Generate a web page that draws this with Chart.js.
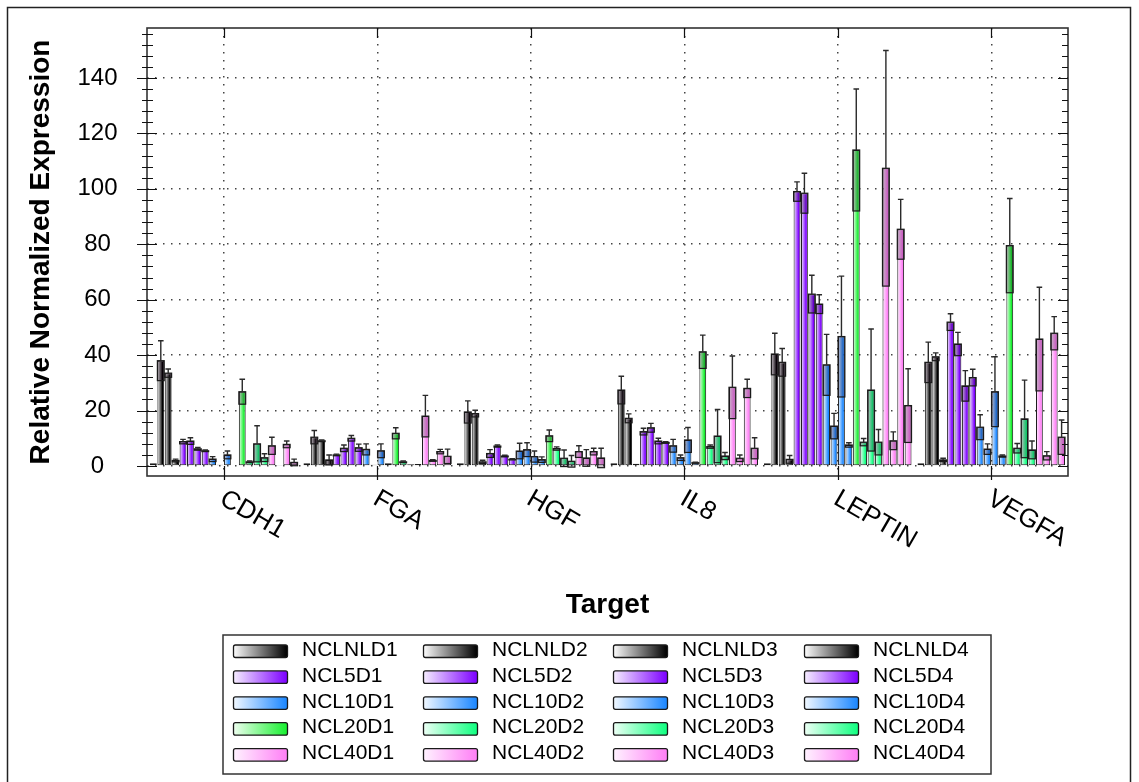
<!DOCTYPE html>
<html>
<head>
<meta charset="utf-8">
<script src="https://cdn.jsdelivr.net/npm/chart.js@4.4.1/dist/chart.umd.min.js"></script>
<style>
  html, body { margin: 0; padding: 0; background: #ffffff; }
  canvas { display: block; }
</style>
</head>
<body>
<canvas id="expr" width="1139" height="782"></canvas>
<script>
// Targets on the category axis
const targets = ['CDH1', 'FGA', 'HGF', 'IL8', 'LEPTIN', 'VEGFA'];

// Samples, in drawing order inside each target
const samples = [
  'NCLNLD1', 'NCLNLD2', 'NCLNLD3', 'NCLNLD4',
  'NCL5D1', 'NCL5D2', 'NCL5D3', 'NCL5D4',
  'NCL10D1', 'NCL10D2', 'NCL10D3', 'NCL10D4',
  'NCL20D1', 'NCL20D2', 'NCL20D3', 'NCL20D4',
  'NCL40D1', 'NCL40D2', 'NCL40D3', 'NCL40D4'
];
const sampleGroups = ['NCLNLD', 'NCL5', 'NCL10', 'NCL20', 'NCL40'];

// Relative normalized expression, one value per sample
const cdh1   = [1, 38.0, 33.5, 2.0, 8.8, 9.0, 6.2, 5.5, 2.5, 0.5, 4.0, 0, 26.8, 1.5, 8.0, 3.0, 7.3, 0.2, 7.8, 1.3];
const fga    = [1, 10.4, 9.1, 2.2, 4.0, 6.4, 10.0, 6.6, 6.0, 0.5, 5.5, 1.0, 11.8, 1.5, 0.6, 0.7, 18.0, 2.0, 5.2, 3.5];
const hgf    = [1, 19.5, 18.9, 1.5, 4.5, 7.2, 3.6, 2.4, 5.4, 5.9, 3.4, 2.3, 10.9, 6.3, 2.8, 1.7, 5.2, 2.9, 5.2, 2.9];
const il8    = [1, 27.4, 17.2, 0.8, 12.4, 13.8, 9.0, 8.5, 7.3, 3.0, 9.4, 1.2, 41.2, 7.0, 10.8, 3.6, 28.4, 2.8, 28.0, 6.4];
const leptin = [1, 40.4, 37.4, 2.4, 99.0, 98.4, 62.0, 58.4, 36.5, 14.4, 46.7, 7.6, 114.0, 8.6, 27.4, 8.6, 107.4, 9.1, 85.4, 21.8];
const vegfa  = [1, 37.4, 39.4, 2.2, 51.9, 44.0, 28.9, 31.9, 14.0, 6.1, 26.8, 3.6, 79.5, 6.4, 17.0, 5.8, 45.8, 3.7, 47.9, 10.4];

// Standard error of each value above
const cdh1Err   = [0, 7.2, 1.5, 0.5, 0.8, 1.2, 0.5, 0.3, 0.9, 0, 1.4, 0, 4.5, 0.3, 6.5, 1.4, 3.1, 0, 1.2, 1.2];
const fgaErr    = [0, 2.4, 0.3, 1.8, 0.3, 1.2, 1.0, 1.3, 2.0, 0, 2.5, 0, 2.0, 0.3, 0, 0, 7.5, 0.3, 0.8, 2.6];
const hgfErr    = [0, 4.0, 1.2, 0.6, 1.4, 0.4, 0.3, 0.2, 2.8, 2.5, 2.0, 1.0, 2.1, 0.6, 3.0, 2.1, 2.1, 3.0, 1.2, 3.5];
const il8Err    = [0, 5.0, 1.6, 0, 1.2, 1.6, 1.0, 0.3, 2.3, 1.0, 4.5, 0.2, 6.0, 0.6, 9.6, 1.3, 11.3, 1.2, 3.3, 3.8];
const leptinErr = [0, 7.5, 5.0, 1.4, 3.5, 7.2, 6.8, 3.4, 11.0, 4.6, 21.8, 0.8, 22.0, 1.3, 22.0, 4.6, 42.5, 3.2, 10.8, 13.3];
const vegfaErr  = [0, 7.3, 1.4, 0.6, 3.0, 4.2, 5.5, 3.0, 4.5, 1.9, 12.6, 0.4, 17.0, 1.7, 14.0, 3.2, 18.7, 1.5, 6.0, 6.2];

// Labelled value-axis ticks
const yTickValues = [0, 20, 40, 60, 80, 100, 120, 140];

const valueRows = [cdh1, fga, hgf, il8, leptin, vegfa];
const errorRows = [cdh1Err, fgaErr, hgfErr, il8Err, leptinErr, vegfaErr];

// Light-to-saturated gradient stops per sample group
const groupColors = {
  NCLNLD: ['#ffffff', '#000000'],
  NCL5:   ['#f7f0ff', '#7d00ff'],
  NCL10:  ['#f3f9ff', '#1a86ff'],
  NCL20:  ['#effff6', '#10ff80'],
  NCL40:  ['#fff3ff', '#ff7ff6']
};
const ncl20d1Colors = ['#f0fff1', '#18f030'];

const FONT = "'Liberation Sans', Arial, sans-serif";

const datasets = samples.map((name, s) => {
  const group = sampleGroups[Math.floor(s / 4)];
  const stops = name === 'NCL20D1' ? ncl20d1Colors : groupColors[group];
  return {
    label: name,
    data: valueRows.map(row => row[s]),
    errors: errorRows.map(row => row[s]),
    lightColor: stops[0],
    darkColor: stops[1],
    backgroundColor: stops[1],
    borderColor: '#1a1a1a',
    borderWidth: 1,
    borderSkipped: false,
    barPercentage: 0.92,
    categoryPercentage: 0.965
  };
});

// Horizontal gradient fill on every bar (colour reaches full strength past mid-width)
const gradientBars = {
  id: 'gradientBars',
  beforeDatasetsDraw(chart) {
    const ctx = chart.ctx;
    chart.data.datasets.forEach((ds, di) => {
      chart.getDatasetMeta(di).data.forEach(bar => {
        const left = bar.x - bar.width / 2;
        const g = ctx.createLinearGradient(left, 0, left + bar.width, 0);
        g.addColorStop(0, ds.lightColor);
        g.addColorStop(0.75, ds.darkColor);
        g.addColorStop(1, ds.darkColor);
        bar.options = Object.assign({}, bar.options, { backgroundColor: g });
      });
    });
  }
};

// Error shown as a shaded box below the bar top and a capped whisker above it
const errorBars = {
  id: 'errorBars',
  afterDatasetsDraw(chart) {
    const { ctx, scales: { y } } = chart;
    ctx.save();
    chart.data.datasets.forEach((ds, di) => {
      chart.getDatasetMeta(di).data.forEach((bar, i) => {
        const v = ds.data[i];
        const e = ds.errors[i];
        if (!e) return;
        const left = bar.x - bar.width / 2;
        const yv = y.getPixelForValue(v);
        const ylo = y.getPixelForValue(v - e);
        const yhi = y.getPixelForValue(v + e);
        ctx.fillStyle = 'rgba(30,0,30,0.24)';
        ctx.fillRect(left, yv, bar.width, ylo - yv);
        ctx.strokeStyle = '#1a1a1a';
        ctx.lineWidth = 1.2;
        ctx.strokeRect(left, yv, bar.width, ylo - yv);
        ctx.strokeStyle = '#2a2a2a';
        ctx.lineWidth = 1.4;
        ctx.beginPath();
        ctx.moveTo(bar.x, yv);
        ctx.lineTo(bar.x, yhi);
        ctx.moveTo(bar.x - 2.8, yhi);
        ctx.lineTo(bar.x + 2.8, yhi);
        ctx.stroke();
      });
    });
    ctx.restore();
  }
};

// Plot frame, axis ticks, slanted target names, legend and page border
const decorations = {
  id: 'decorations',
  afterDraw(chart) {
    const { ctx, chartArea: a, scales: { x, y } } = chart;
    ctx.save();

    // plot frame
    ctx.strokeStyle = '#333333';
    ctx.lineWidth = 1.6;
    ctx.strokeRect(a.left, a.top, a.right - a.left, a.bottom - a.top);

    // value-axis ticks: left crosses the axis, right points inward
    ctx.strokeStyle = '#111111';
    ctx.lineWidth = 1.2;
    ctx.beginPath();
    for (let v = 0; v <= y.max; v += 4) {
      const py = Math.round(y.getPixelForValue(v)) + 0.5;
      const major = v % 20 === 0;
      ctx.moveTo(a.left - (major ? 10 : 5), py);
      ctx.lineTo(a.left + (major ? 10 : 6), py);
      ctx.moveTo(a.right - (major ? 10 : 6), py);
      ctx.lineTo(a.right, py);
    }
    // category ticks on bottom and top edges
    targets.forEach((t, i) => {
      const px = Math.round(x.getPixelForTick(i)) + 0.5;
      ctx.moveTo(px, a.bottom - 10);
      ctx.lineTo(px, a.bottom + 4);
      ctx.moveTo(px, a.top);
      ctx.lineTo(px, a.top + 10);
    });
    ctx.stroke();

    // target names, slanted downward
    ctx.fillStyle = '#000000';
    ctx.font = '26px ' + FONT;
    ctx.textAlign = 'left';
    ctx.textBaseline = 'middle';
    targets.forEach((t, i) => {
      const px = x.getPixelForTick(i);
      ctx.save();
      ctx.translate(px - 2, a.bottom + 21);
      ctx.rotate(Math.PI / 6);
      ctx.fillText(t, 0, 0);
      ctx.restore();
    });

    // legend: 4 columns, row-major in sample order
    const box = { left: 223, top: 635, right: 991, bottom: 774 };
    ctx.strokeStyle = '#333333';
    ctx.lineWidth = 1.5;
    ctx.strokeRect(box.left, box.top, box.right - box.left, box.bottom - box.top);
    const colX = [233, 423, 613, 804];
    ctx.font = '21px ' + FONT;
    chart.data.datasets.forEach((ds, di) => {
      const col = di % 4;
      const row = Math.floor(di / 4);
      const sx = colX[col];
      const cy = 651 + row * 25.9;
      const g = ctx.createLinearGradient(sx, 0, sx + 54, 0);
      g.addColorStop(0, ds.lightColor);
      g.addColorStop(1, ds.darkColor);
      ctx.fillStyle = g;
      ctx.beginPath();
      ctx.roundRect(sx + 0.5, cy - 6, 54, 12.5, 2);
      ctx.fill();
      ctx.strokeStyle = '#1a1a1a';
      ctx.lineWidth = 1.3;
      ctx.stroke();
      ctx.fillStyle = '#000000';
      ctx.fillText(ds.label, sx + 69, cy - 1);
    });

    // page border
    ctx.strokeStyle = '#222222';
    ctx.lineWidth = 1.5;
    ctx.strokeRect(7.5, 7.5, 1123, 800);
    ctx.restore();
  }
};

new Chart(document.getElementById('expr'), {
  type: 'bar',
  data: { labels: targets, datasets: datasets },
  plugins: [gradientBars, errorBars, decorations],
  options: {
    responsive: false,
    animation: false,
    events: [],
    layout: { padding: { left: 8, right: 71, top: 28, bottom: 160 } },
    plugins: {
      legend: { display: false },
      tooltip: { enabled: false }
    },
    scales: {
      x: {
        type: 'category',
        offset: true,
        ticks: { display: false },
        grid: {
          offset: false,
          drawTicks: false,
          color: '#444444',
          lineWidth: 1.5
        },
        border: { display: false, dash: [1.5, 6.5] },
        title: {
          display: true,
          text: 'Target',
          color: '#000000',
          font: { family: FONT, size: 28, weight: 'bold' },
          padding: { top: 0, bottom: 0 }
        },
        afterFit(scale) { scale.height = 146; }
      },
      y: {
        min: -3.6,
        max: 158,
        afterBuildTicks(scale) {
          scale.ticks = yTickValues.map(v => ({ value: v }));
        },
        ticks: {
          color: '#000000',
          padding: 3.5,
          crossAlign: 'center',
          font: { family: FONT, size: 24 },
          callback: v => String(v)
        },
        grid: {
          drawTicks: true,
          tickLength: 26,
          tickColor: 'rgba(0,0,0,0)',
          color: '#444444',
          lineWidth: 1.5
        },
        border: { display: false, dash: [1.5, 6.5] },
        title: {
          display: true,
          text: 'Relative Normalized Expression',
          color: '#000000',
          font: { family: FONT, size: 28, weight: 'bold' },
          padding: { top: 16, bottom: 0 }
        },
        afterFit(scale) { scale.width = 139; }
      }
    }
  }
});
</script>
</body>
</html>
